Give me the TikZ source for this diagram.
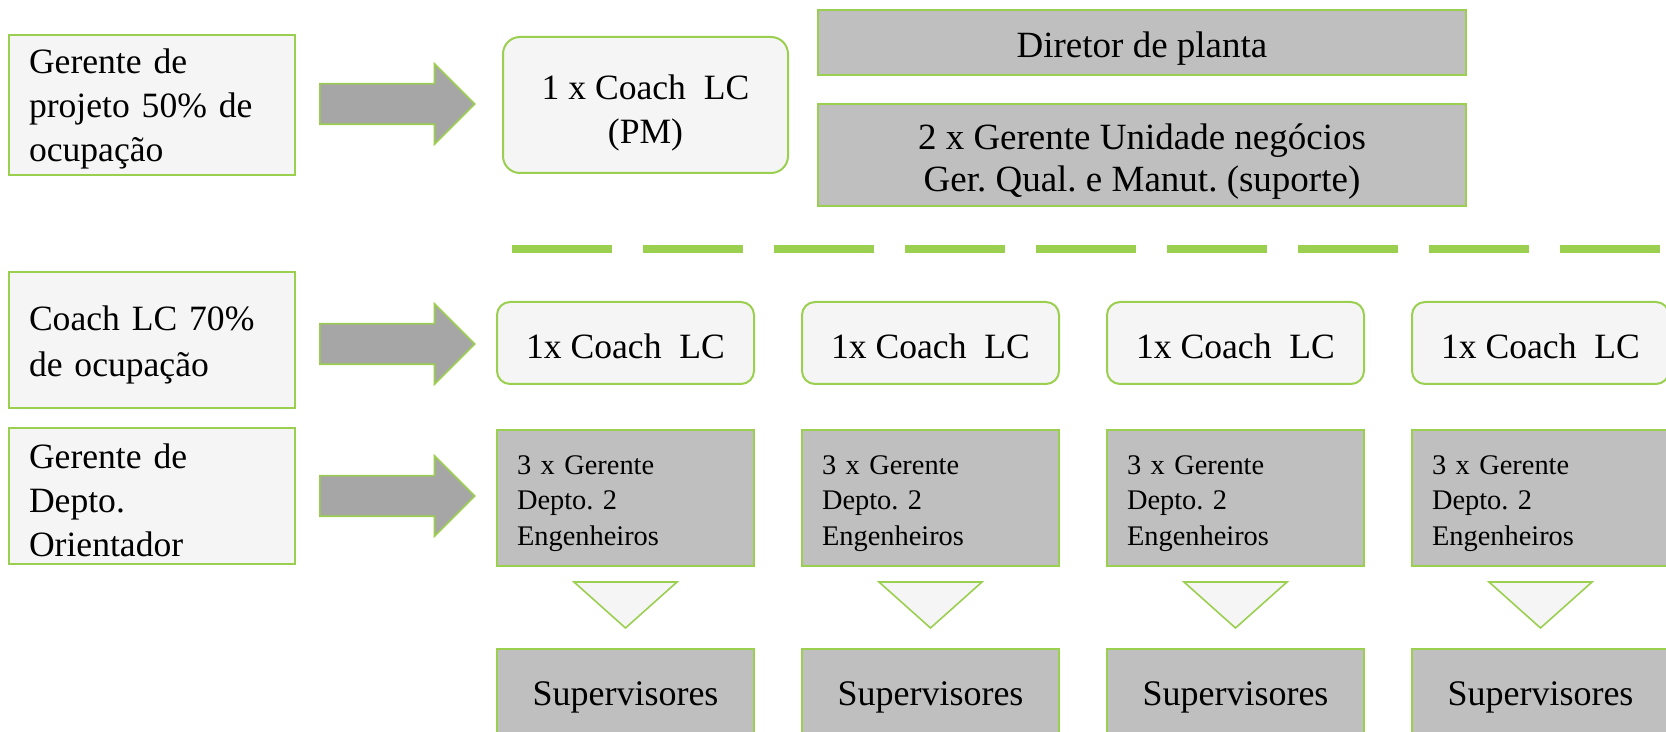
\documentclass[tikz,border=0pt]{standalone}
\usepackage{fontspec}
\setmainfont{Liberation Serif}
\usepackage{tikz}
\usetikzlibrary{shapes.arrows}
\usepackage{xcolor}
\definecolor{ColGreen}{RGB}{155,207,80}
\definecolor{ColLight}{RGB}{245,245,245}
\definecolor{ColGray}{RGB}{191,191,191}
\definecolor{ColArrow}{RGB}{166,166,166}
\newcommand{\LiftText}[1]{\rule{0pt}{#1}}
\tikzstyle{BoxRole}=[rectangle,draw=ColGreen,fill=ColLight,line width=1pt,
minimum width=143pt,minimum height=68pt,inner xsep=10pt,text width=123pt,align=left,
font=\fontsize{17.8}{22}\selectfont\frenchspacing]
\tikzstyle{BoxCoach}=[rectangle,rounded corners=6.5pt,draw=ColGreen,fill=ColLight,line width=1pt,
minimum width=128.5pt,minimum height=41pt,font=\fontsize{17.8}{21}\selectfont\frenchspacing]
\tikzstyle{BoxTop}=[rectangle,draw=ColGreen,fill=ColGray,line width=1pt,minimum width=324pt,
align=center,font=\fontsize{18.5}{21}\selectfont\frenchspacing]
\tikzstyle{BoxDept}=[rectangle,draw=ColGreen,fill=ColGray,line width=1pt,
minimum width=128.5pt,minimum height=68pt,inner xsep=10pt,text width=108.5pt,align=left,
font=\fontsize{14.2}{17.8}\selectfont\frenchspacing]
\tikzstyle{BoxSup}=[rectangle,draw=ColGreen,fill=ColGray,line width=1pt,
minimum width=128.5pt,minimum height=44pt,font=\fontsize{18}{21}\selectfont]
\tikzstyle{ArrowBlock}=[single arrow,draw=ColGreen,fill=ColArrow,line width=.8pt,
minimum height=77.5pt,inner xsep=0pt,inner ysep=9.75pt,single arrow head extend=10pt,
single arrow head indent=0pt,anchor=tail]
\tikzstyle{TriDown}=[draw=ColGreen,fill=ColLight,line width=.8pt]
\tikzstyle{DashLine}=[ColGreen,line width=4pt,dash pattern=on 50pt off 15.5pt]

\begin{document}
\begin{tikzpicture}[x=.5pt,y=-.5pt]
  \useasboundingbox (0,0) rectangle (1666,732);
  % left column
  \node[BoxRole](rPM)at(152,105){\LiftText{16pt}Gerente de\\projeto 50\% de\\ocupação};
  \node[BoxRole,font=\fontsize{17.8}{23}\selectfont](rCoach)at(152,340){\LiftText{17.5pt}Coach LC 70\%\\de ocupação};
  \node[BoxRole](rDept)at(152,496){\LiftText{17pt}Gerente de\\Depto.\\Orientador};
  \node[ArrowBlock](a1)at(319,104){};
  \node[ArrowBlock](a2)at(319,344){};
  \node[ArrowBlock](a3)at(319,496){};
  % top
  \node[BoxCoach,minimum width=142.5pt,minimum height=68pt,rounded corners=8.5pt,
    align=center,font=\fontsize{17.8}{22}\selectfont](pm)at(645.5,105){\LiftText{20pt}1 x Coach\ \ LC\\(PM)};
  \node[BoxTop,minimum height=32.5pt](dir)at(1142,42.5){\LiftText{18.5pt}Diretor de planta};
  \node[BoxTop,minimum height=51pt](un)at(1142,155){\LiftText{19.5pt}2 x Gerente Unidade negócios\\Ger. Qual. e Manut. (suporte)};
  \draw[DashLine](512,249)--(1666,249);
  % four columns
  \foreach \i in {1,...,4}{
    \pgfmathsetmacro{\cx}{625.5+305*(\i-1)}
    \node[BoxCoach](c\i)at(\cx,343){\LiftText{15.2pt}1x Coach\ \ LC};
    \node[BoxDept](d\i)at(\cx,498){\LiftText{15pt}3 x Gerente\\Depto. 2\\Engenheiros};
    \draw[TriDown](\cx-51.5,582)--(\cx+51.5,582)--(\cx,628)--cycle;
    \node[BoxSup](s\i)at(\cx,693){\LiftText{16pt}Supervisores};
  }
\end{tikzpicture}
\end{document}
